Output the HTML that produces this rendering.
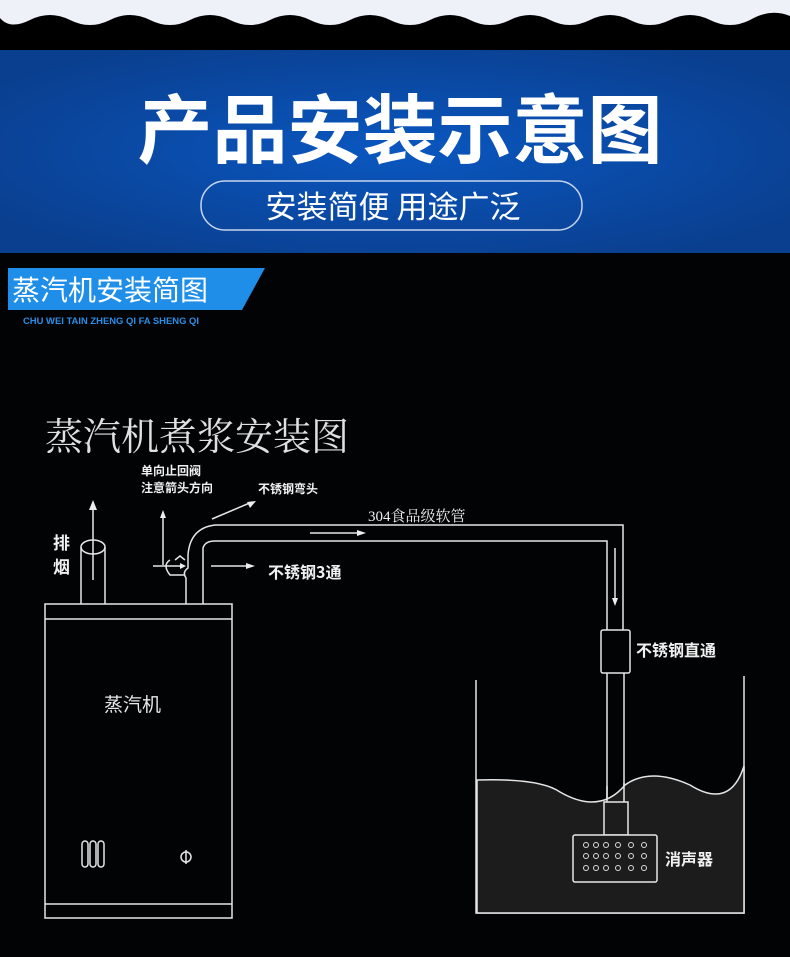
<!DOCTYPE html>
<html><head><meta charset="utf-8"><style>
body{margin:0;width:790px;height:952px;overflow:hidden;background:#020305;font-family:"Liberation Sans","Noto Sans CJK SC",sans-serif}
</style></head><body>
<svg width="790" height="952" viewBox="0 0 790 952" xmlns="http://www.w3.org/2000/svg">
<defs><radialGradient id="bg" cx="50%" cy="50%" r="60%"><stop offset="0" stop-color="#0a57c0"/><stop offset="1" stop-color="#0a3f8f"/></radialGradient></defs>
<rect width="790" height="952" fill="#020305"/>
<rect width="790" height="50" fill="#000"/>
<path d="M0 0H790V16 Q770 8 750 20 Q730 30 710 20 Q690 10 670 20 Q650 30 630 20 Q610 10 590 20 Q570 30 550 20 Q530 10 510 20 Q490 30 470 20 Q450 10 430 20 Q410 30 390 20 Q370 10 350 20 Q330 30 310 20 Q290 10 270 20 Q250 30 230 20 Q210 10 190 20 Q170 30 150 20 Q130 10 110 20 Q90 30 70 20 Q50 10 30 20 Q10 30 0 18Z" fill="#eef2f8"/>
<rect y="50" width="790" height="203" fill="url(#bg)"/>
<text x="400" y="157" text-anchor="middle" font-size="75" font-weight="bold" fill="#fff" font-family="'Noto Sans CJK SC',sans-serif">产品安装示意图</text>
<rect x="201" y="181" width="381" height="49" rx="24" fill="none" stroke="#c8d4ee" stroke-width="1.5"/>
<text x="393" y="218" text-anchor="middle" font-size="31" fill="#fff" font-family="'Noto Sans CJK SC',sans-serif">安装简便 用途广泛</text>
<polygon points="8,268 265,268 242,310 8,310" fill="#1e8ee8"/>
<text x="12" y="300" font-size="28" fill="#fff" font-family="'Noto Sans CJK SC',sans-serif">蒸汽机安装简图</text>
<text x="23" y="324" font-size="9" fill="#2a8fe8" font-weight="bold" textLength="176" lengthAdjust="spacingAndGlyphs">CHU WEI TAIN ZHENG QI FA SHENG QI</text>
<text x="45" y="450" font-size="38" fill="#e0e0e0" font-family="'Noto Serif CJK SC',serif">蒸汽机煮浆安装图</text>
<g fill="none" stroke="#e6e6e6" stroke-width="1.5">
<rect x="45" y="604" width="187" height="314"/>
<line x1="45" y1="619" x2="232" y2="619"/>
<line x1="45" y1="904" x2="232" y2="904"/>
<rect x="82" y="841" width="6" height="26" rx="3"/><rect x="90" y="841" width="6" height="26" rx="3"/><rect x="98" y="841" width="6" height="26" rx="3"/>
<ellipse cx="186" cy="857" rx="5" ry="5"/><line x1="186" y1="850" x2="186" y2="864"/>
<line x1="81" y1="547" x2="81" y2="604"/><line x1="105" y1="547" x2="105" y2="604"/>
<ellipse cx="93" cy="547" rx="12" ry="7"/>
<line x1="93" y1="580" x2="93" y2="505"/>
<path d="M186 604V578 Q182 572 188 568 V555 Q190 528 215 525 H623 V630"/>
<path d="M203 604V548 Q205 541 215 541 H607 V630"/>
<line x1="163" y1="565" x2="163" y2="515"/>
<path d="M153 566 H183 M170 560 Q162 565 170 575 H185 M175 560 L180 556 L185 560"/>
<line x1="211" y1="566" x2="248" y2="566"/>
<line x1="212" y1="519" x2="252" y2="502"/>
<line x1="310" y1="533" x2="360" y2="533"/>
<line x1="615" y1="548" x2="615" y2="600"/>
<rect x="601" y="630" width="29" height="43" rx="2"/>
<line x1="607" y1="673" x2="607" y2="802"/><line x1="624" y1="673" x2="624" y2="802"/>
<path d="M476 680 V913 H744 V676"/>
</g>
<path d="M477 780 Q540 778 560 792 Q600 815 625 785 Q650 767 690 785 Q730 810 744 766 V913 H477Z" fill="#1c1c1c" stroke="#e6e6e6" stroke-width="1.5"/>
<line x1="607" y1="786" x2="607" y2="802" stroke="#e6e6e6" stroke-width="1.5"/><line x1="624" y1="783" x2="624" y2="802" stroke="#e6e6e6" stroke-width="1.5"/>
<g fill="#1c1c1c" stroke="#e6e6e6" stroke-width="1.5">
<rect x="604" y="802" width="24" height="33"/>
<rect x="573" y="835" width="84" height="47" rx="2"/>
</g>
<g fill="none" stroke="#ddd" stroke-width="1">
<circle cx="586" cy="845" r="2.5"/><circle cx="596" cy="845" r="2.5"/><circle cx="606" cy="845" r="2.5"/><circle cx="618" cy="845" r="2.5"/><circle cx="631" cy="845" r="2.5"/><circle cx="644" cy="845" r="2.5"/>
<circle cx="586" cy="856" r="2.5"/><circle cx="596" cy="856" r="2.5"/><circle cx="606" cy="856" r="2.5"/><circle cx="618" cy="856" r="2.5"/><circle cx="631" cy="856" r="2.5"/><circle cx="644" cy="856" r="2.5"/>
<circle cx="586" cy="868" r="2.5"/><circle cx="596" cy="868" r="2.5"/><circle cx="606" cy="868" r="2.5"/><circle cx="618" cy="868" r="2.5"/><circle cx="631" cy="868" r="2.5"/><circle cx="644" cy="868" r="2.5"/>
</g>
<g fill="#eee">
<polygon points="93,500 89,510 97,510"/><polygon points="163,510 160,518 166,518"/>
<polygon points="255,566 246,563 246,569"/><polygon points="256,501 247,502 250,508"/>
<polygon points="366,533 357,530 357,536"/><polygon points="615,606 612,598 618,598"/>
<polygon points="186,566 180,563 180,569"/>
</g>
<g fill="#f0f0f0" font-family="'Noto Sans CJK SC',sans-serif" font-weight="bold">
<text x="53" y="549" font-size="17">排</text><text x="53" y="573" font-size="17">烟</text>
<text x="141" y="475" font-size="12">单向止回阀</text>
<text x="141" y="492" font-size="12">注意箭头方向</text>
<text x="258" y="493" font-size="12">不锈钢弯头</text>
<text x="268" y="578" font-size="16">不锈钢3通</text>
<text x="368" y="521" font-size="15" font-weight="normal" font-family="'Liberation Serif','Noto Serif CJK SC',serif">304食品级软管</text>
<text x="636" y="656" font-size="16">不锈钢直通</text>
<text x="665" y="865" font-size="16">消声器</text>
</g>
<text x="104" y="711" font-size="19" fill="#e8e8e8" font-family="'Noto Sans CJK SC',sans-serif">蒸汽机</text>
</svg>
</body></html>
